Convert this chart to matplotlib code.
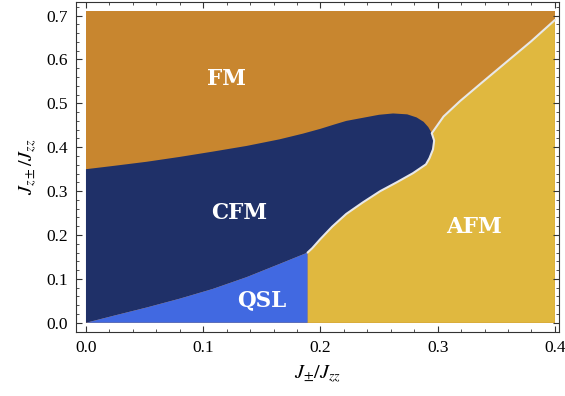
import matplotlib
matplotlib.use("Agg")
import matplotlib.pyplot as plt
from matplotlib.ticker import MultipleLocator

# ---- data ----
x_max, y_max = 0.4, 0.71
# FM / CFM boundary (top of CFM region, incl. nose), left to right
fm_cfm_x = [0.0, 0.025, 0.052, 0.080, 0.108, 0.137, 0.165, 0.185, 0.200, 0.212, 0.222, 0.236, 0.250, 0.262, 0.274, 0.282, 0.288, 0.292, 0.295]
fm_cfm_y = [0.350, 0.358, 0.367, 0.378, 0.390, 0.403, 0.418, 0.431, 0.442, 0.452, 0.460, 0.467, 0.474, 0.477, 0.475, 0.468, 0.458, 0.446, 0.432]
# AFM / CFM boundary, from nose down to QSL corner
afm_cfm_x = [0.295, 0.297, 0.296, 0.293, 0.290, 0.279, 0.265, 0.251, 0.236, 0.222, 0.210, 0.200, 0.193, 0.189]
afm_cfm_y = [0.432, 0.415, 0.395, 0.375, 0.361, 0.341, 0.320, 0.300, 0.274, 0.248, 0.219, 0.191, 0.170, 0.160]
# QSL / CFM boundary, from origin to QSL corner
qsl_x = [0.0, 0.025, 0.052, 0.080, 0.108, 0.137, 0.165, 0.189]
qsl_y = [0.0, 0.017, 0.035, 0.055, 0.077, 0.104, 0.134, 0.160]
# FM / AFM boundary
fm_afm_x = [0.295, 0.305, 0.319, 0.338, 0.359, 0.380, 0.400]
fm_afm_y = [0.432, 0.470, 0.505, 0.548, 0.595, 0.642, 0.690]

phase_names = ["FM", "CFM", "QSL", "AFM"]
phase_pos = [(0.120, 0.555), (0.131, 0.250), (0.150, 0.052), (0.331, 0.218)]

c_fm = "#C8862F"
c_cfm = "#1F3068"
c_qsl = "#4169E1"
c_afm = "#E0B83F"

plt.rcParams["font.family"] = ["Liberation Serif", "DejaVu Serif"]
plt.rcParams["mathtext.fontset"] = "stix"

fig = plt.figure(figsize=(5.65, 3.96), dpi=100)
ax = fig.add_axes([76/565, 1 - 332/396, (559-76)/565, (331-1)/396])

# FM background
ax.fill([0, x_max, x_max, 0], [0, 0, y_max, y_max], color=c_fm, lw=0)
# AFM
qx = qsl_x[-1]
ax_afm_x = [qx, x_max, x_max] + fm_afm_x[::-1] + afm_cfm_x
ax_afm_y = [0, 0, fm_afm_y[-1]] + fm_afm_y[::-1] + afm_cfm_y
ax.fill(ax_afm_x, ax_afm_y, color=c_afm, lw=0)
# CFM
cx = qsl_x + afm_cfm_x[::-1] + fm_cfm_x[::-1]
cy = qsl_y + afm_cfm_y[::-1] + fm_cfm_y[::-1]
ax.fill(cx, cy, color=c_cfm, lw=0)
# QSL
ax.fill(qsl_x + [qx], qsl_y + [0], color=c_qsl, lw=0)
# white boundary lines
ax.plot(afm_cfm_x, afm_cfm_y, color="#E8E8E8", lw=1.5, solid_capstyle="round")
ax.plot(fm_afm_x, fm_afm_y, color="#E8E8E8", lw=1.5, solid_capstyle="round")

for name, (px, py) in zip(phase_names, phase_pos):
    ax.text(px, py, name, color="white", fontsize=15.5, fontweight="bold",
            family="DejaVu Serif", ha="center", va="center")

ax.set_xlim(-0.0085, 0.4035)
ax.set_ylim(-0.021, 0.731)
ax.xaxis.set_major_locator(MultipleLocator(0.1))
ax.xaxis.set_minor_locator(MultipleLocator(0.02))
ax.yaxis.set_major_locator(MultipleLocator(0.1))
ax.yaxis.set_minor_locator(MultipleLocator(0.02))
ax.tick_params(which="both", direction="in", top=True, right=True, labelsize=12.5, color="#333333")
ax.tick_params(which="major", length=4.5, width=0.8)
ax.tick_params(which="minor", length=2.5, width=0.6)
ax.tick_params(axis="x", pad=6)
ax.tick_params(axis="y", pad=6)
ax.xaxis.set_major_formatter(matplotlib.ticker.FormatStrFormatter("%.1f"))
ax.yaxis.set_major_formatter(matplotlib.ticker.FormatStrFormatter("%.1f"))
for s in ax.spines.values():
    s.set_color("#333333")
    s.set_linewidth(0.8)

ax.set_xlabel(r"$J_{\pm}/J_{zz}$", fontsize=14.5, labelpad=5)
ax.set_ylabel(r"$J_{z\pm}/J_{zz}$", fontsize=14.5, labelpad=5)

fig.savefig("out.png", dpi=100)
